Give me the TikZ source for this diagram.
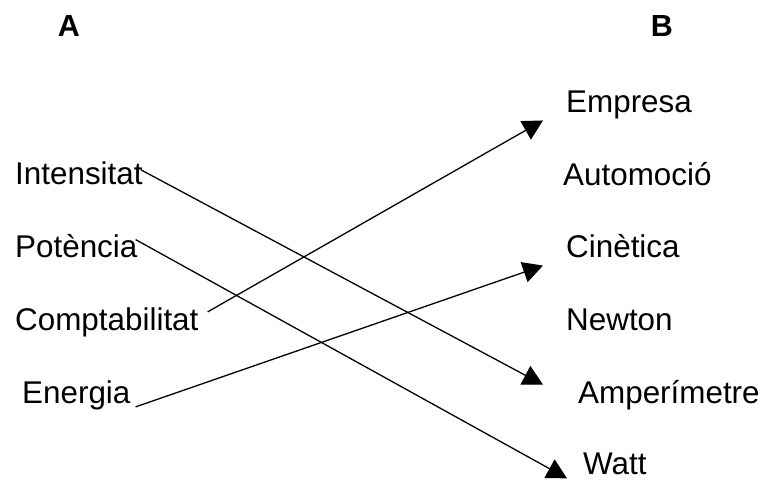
\documentclass[tikz,border=0pt]{standalone}
\usepackage{fontspec}
\setmainfont{Liberation Sans}
\usetikzlibrary{arrows.meta,positioning}
\begin{document}
\begin{tikzpicture}[x=1pt,y=-1pt,
  wordstyle/.style={inner sep=0,anchor=base west,font=\fontsize{31.4}{36}\selectfont},
  headstyle/.style={inner sep=0,anchor=base,font=\fontsize{30.5}{34}\selectfont\bfseries},
  linkstyle/.style={line width=1.3pt,-{Triangle[width=21pt,length=20pt]}}]
\useasboundingbox (0,0) rectangle (764,481);
% columns
\node[headstyle] (A) at (69,37) {A};
\node[headstyle] (B) at (662,37) {B};
\node[wordstyle] (int) at (15,185) {Intensitat};
\node[wordstyle] (pot) at (15,258) {Potència};
\node[wordstyle] (comp) at (15,331) {Comptabilitat};
\node[wordstyle] (ene) at (22,403) {Energia};
\node[wordstyle] (emp) at (566,113) {Empresa};
\node[wordstyle] (aut) at (563,186) {Automoció};
\node[wordstyle] (cin) at (566,258) {Cinètica};
\node[wordstyle] (new) at (566,331) {Newton};
\node[wordstyle] (amp) at (578,403) {Amperímetre};
\node[wordstyle] (wat) at (583,475) {Watt};
% arrows
\draw[linkstyle] ([shift={(-2,-4)}]int.east) -- ([shift={(-35,-10)}]amp.west);
\draw[linkstyle] ([shift={(-2,-7)}]pot.east) -- ([shift={(-16,14)}]wat.west);
\draw[linkstyle] ([shift={(9,-11)}]comp.east) -- ([shift={(-23,15)}]emp.west);
\draw[linkstyle] ([shift={(5,12)}]ene.east) -- ([shift={(-23,19)}]cin.west);
\end{tikzpicture}
\end{document}
